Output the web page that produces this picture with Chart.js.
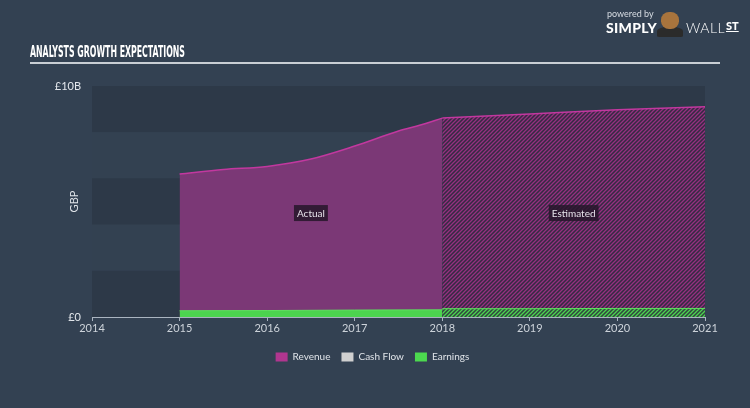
<!DOCTYPE html>
<html><head><meta charset="utf-8">
<script src="https://cdn.jsdelivr.net/npm/chart.js@4"></script>
<style>
html,body{margin:0;padding:0;background:#334152;width:750px;height:408px;overflow:hidden;}
#wrap{position:relative;width:750px;height:408px;}
#c{position:absolute;left:0;top:0;}
.title{position:absolute;left:30px;top:43px;font-family:'DejaVu Sans Condensed','DejaVu Sans';font-weight:bold;font-size:15px;color:#fff;transform:scaleX(0.58);transform-origin:left top;white-space:nowrap;}
.rule{position:absolute;left:30px;top:62px;width:690px;height:2px;background:#c9ced4;}
.pw{position:absolute;left:607px;top:8px;font-family:Lato,'Open Sans';font-size:9px;color:#d8dde3;}
.simply{position:absolute;left:606px;top:19px;font-family:Lato,'Open Sans';font-weight:900;font-size:14px;color:#fff;letter-spacing:0.3px;}
.wall{position:absolute;left:686px;top:19px;font-family:Lato,'Open Sans';font-weight:300;font-size:14px;color:#fff;letter-spacing:0.5px;}
.st{position:absolute;left:726px;top:19px;font-family:Lato,'Open Sans';font-weight:900;font-size:11px;color:#fff;text-decoration:underline;}
.bull{position:absolute;left:661px;top:12px;width:18px;height:17px;border-radius:45%;background:#a8743d;}
.body{position:absolute;left:657px;top:27px;width:26px;height:10px;border-radius:40% 40% 10% 10%;background:#2b2b2b;}
</style></head>
<body><div id="wrap">
<canvas id="c" width="750" height="408"></canvas>
<div class="title">ANALYSTS GROWTH EXPECTATIONS</div>
<div class="rule"></div>
<div class="pw">powered by</div>
<div class="simply">SIMPLY</div>
<div class="body"></div><div class="bull"></div>
<div class="wall">WALL</div><div class="st">ST</div>
</div>
<script>
// ---- data (values in £ billions) ----
const revenueActualYears = [2015, 2015.5, 2016, 2016.5, 2017, 2017.5, 2017.75, 2018];
const revenueActual      = [6.19, 6.39, 6.52, 6.84, 7.40, 8.05, 8.31, 8.61];
const revenueEstYears    = [2018, 2019, 2020, 2021];
const revenueEst         = [8.61, 8.79, 8.97, 9.10];
const earningsActualYears = [2015, 2016, 2017, 2018];
const earningsActual      = [0.27, 0.28, 0.30, 0.31];
const earningsEstYears    = [2018, 2019, 2020, 2021];
const earningsEst         = [0.36, 0.36, 0.37, 0.37];
const cashFlowYears = [];
const cashFlow      = [];
const xTickYears = [2014, 2015, 2016, 2017, 2018, 2019, 2020, 2021];
const yTickValues = [0, 10];
const legendNames = ['Revenue', 'Cash Flow', 'Earnings'];

const pts = (xs, ys) => xs.map((x, i) => ({x: x, y: ys[i]}));

function hatch(fg, bg) {
  const c = document.createElement('canvas'); c.width = 4; c.height = 4;
  const g = c.getContext('2d');
  g.fillStyle = bg; g.fillRect(0, 0, 4, 4);
  g.strokeStyle = fg; g.lineWidth = 1.3;
  g.beginPath();
  g.moveTo(0, 4); g.lineTo(4, 0);
  g.moveTo(-1, 1); g.lineTo(1, -1);
  g.moveTo(3, 5); g.lineTo(5, 3);
  g.stroke();
  return g.createPattern(c, 'repeat');
}
const purpleHatch = hatch('rgb(150,48,128)', 'rgb(52,42,66)');
const greenHatch = hatch('rgb(76,212,80)', 'rgb(48,70,62)');

const bandPlugin = {
  id: 'bands',
  beforeDatasetsDraw(chart) {
    const {ctx, chartArea: a, scales: {y}} = chart;
    ctx.save();
    for (let i = 0; i < 5; i++) {
      const top = y.getPixelForValue(10 - 2 * i), bot = y.getPixelForValue(8 - 2 * i);
      ctx.fillStyle = i % 2 === 0 ? 'rgb(45,57,72)' : 'rgb(51,65,81)';
      ctx.fillRect(a.left, top, a.right - a.left, bot - top);
    }
    ctx.restore();
  }
};
const tagPlugin = {
  id: 'tags',
  afterDatasetsDraw(chart) {
    const {ctx, scales: {x, y}} = chart;
    const tags = [['Actual', 2016.5], ['Estimated', 2019.5]];
    ctx.save();
    ctx.font = '10px Lato, "Open Sans", sans-serif';
    ctx.textAlign = 'center'; ctx.textBaseline = 'middle';
    tags.forEach(([t, xv]) => {
      const px = x.getPixelForValue(xv), py = y.getPixelForValue(4.5);
      const w = ctx.measureText(t).width + 6;
      ctx.fillStyle = 'rgba(38,22,42,0.85)';
      ctx.fillRect(px - w / 2, py - 8, w, 16);
      ctx.fillStyle = '#e6e2ea';
      ctx.fillText(t, px, py + 0.5);
    });
    ctx.restore();
  }
};

const legendColors = ['#b0368f', '#d0d0d0', '#4cd94f'];

new Chart(document.getElementById('c'), {
  type: 'line',
  data: {
    datasets: [
      {label: 'Earnings', data: pts(earningsActualYears, earningsActual), borderColor: '#5fe060', borderWidth: 1, backgroundColor: '#4cd44f', fill: 'origin', pointRadius: 0, tension: 0},
      {label: 'Earnings est', data: pts(earningsEstYears, earningsEst), borderColor: '#5fe060', borderWidth: 1, backgroundColor: greenHatch, fill: 'origin', pointRadius: 0, tension: 0},
      {label: 'Cash Flow', data: pts(cashFlowYears, cashFlow), borderColor: '#d0d0d0', backgroundColor: '#d0d0d0', pointRadius: 0},
      {label: 'Revenue', data: pts(revenueActualYears, revenueActual), borderColor: '#c2389f', borderWidth: 1.5, backgroundColor: '#7b3876', fill: 'origin', pointRadius: 0, cubicInterpolationMode: 'monotone'},
      {label: 'Revenue est', data: pts(revenueEstYears, revenueEst), borderColor: '#c2389f', borderWidth: 1.5, backgroundColor: purpleHatch, fill: 'origin', pointRadius: 0, cubicInterpolationMode: 'monotone'}
    ]
  },
  options: {
    responsive: false, animation: false,
    layout: {padding: {top: 86, left: 40, right: 45, bottom: 36}},
    plugins: {
      tooltip: {enabled: false},
      legend: {
        position: 'bottom',
        onClick: null,
        labels: {
          boxWidth: 12, boxHeight: 9, padding: 11, color: '#dfe3e8',
          font: {family: 'Lato, "Open Sans", sans-serif', size: 10},
          generateLabels: () => legendNames.map((n, i) => ({text: n, fillStyle: legendColors[i], strokeStyle: legendColors[i], lineWidth: 0, fontColor: '#dfe3e8'}))
        }
      }
    },
    scales: {
      x: {
        type: 'linear', min: 2014, max: 2021,
        afterBuildTicks: s => { s.ticks = xTickYears.map(v => ({value: v})); },
        afterFit: s => { s.height = 24; },
        border: {display: true, color: '#aab4c0', width: 1},
        grid: {display: true, drawOnChartArea: false, drawTicks: true, tickLength: 4, color: '#aab4c0'},
        ticks: {color: '#cdd3da', font: {family: 'Lato, "Open Sans", sans-serif', size: 11}, padding: 1, maxRotation: 0, callback: v => String(v)}
      },
      y: {
        min: 0, max: 10,
        afterBuildTicks: s => { s.ticks = yTickValues.map(v => ({value: v})); },
        afterFit: s => { s.width = 52; },
        border: {display: false},
        grid: {display: false, drawTicks: false},
        title: {display: true, text: 'GBP', color: '#dfe3e8', font: {family: 'Lato, "Open Sans", sans-serif', size: 11}, padding: {top: 28, bottom: 0}},
        ticks: {color: '#e3e7ec', font: {family: 'Lato, "Open Sans", sans-serif', size: 11}, padding: 11, callback: v => v === 0 ? '£0' : '£' + v + 'B'}
      }
    }
  },
  plugins: [bandPlugin, tagPlugin]
});
</script>
</body></html>
